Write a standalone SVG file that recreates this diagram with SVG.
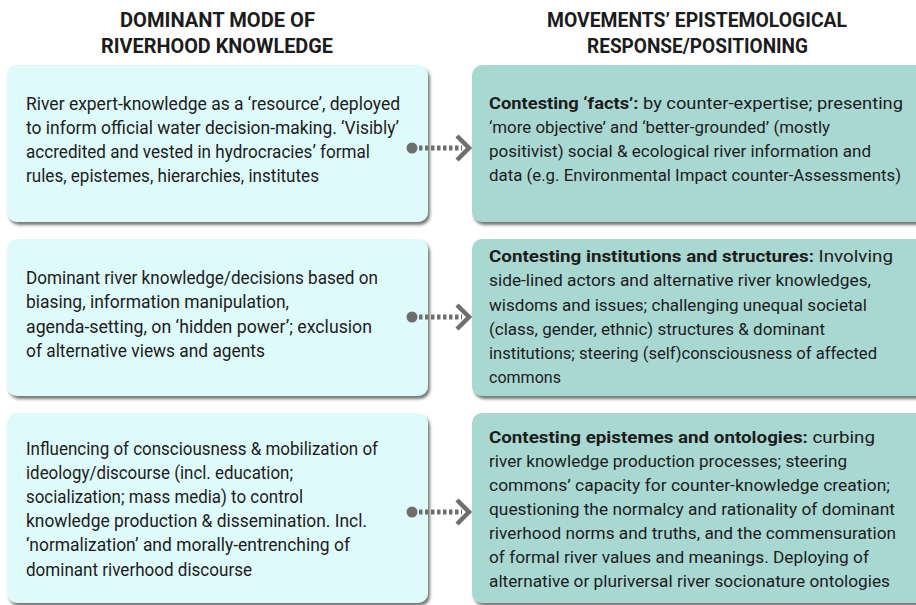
<svg xmlns="http://www.w3.org/2000/svg" width="916" height="605" viewBox="0 0 916 605">
<defs>
<filter id="sh" x="-5%" y="-5%" width="115%" height="120%">
<feDropShadow dx="2" dy="3" stdDeviation="1.8" flood-color="#4a4a4a" flood-opacity="0.75"/>
</filter>
</defs>
<style>
.l{fill:#dffafa;filter:url(#sh)}
.r{fill:#a9d8d3;filter:url(#sh)}
text{font-family:Roboto,"Open Sans","Liberation Sans",sans-serif;font-size:18px;fill:#1c1c1c}
.rt text{font-size:17.4px}
.h{font-weight:bold;font-size:20px}
.b{font-weight:bold}
.ar line{stroke:#6e6e6e;stroke-width:5;stroke-dasharray:3.5 2.5}
.ar circle{fill:#6e6e6e}
.ar polyline{fill:none;stroke:#6e6e6e;stroke-width:4.5}
</style>
<rect width="916" height="605" fill="#ffffff"/>
<g id="headers">
<text class="h" x="120" y="27" textLength="195" lengthAdjust="spacingAndGlyphs">DOMINANT MODE OF</text>
<text class="h" x="101" y="53" textLength="232" lengthAdjust="spacingAndGlyphs">RIVERHOOD KNOWLEDGE</text>
<text class="h" x="547" y="27" textLength="300" lengthAdjust="spacingAndGlyphs">MOVEMENTS’ EPISTEMOLOGICAL</text>
<text class="h" x="587" y="53" textLength="221" lengthAdjust="spacingAndGlyphs">RESPONSE/POSITIONING</text>
</g>
<g id="left1">
<rect class="l" x="7" y="65" width="421" height="157" rx="10"/>
<text x="26" y="110" textLength="374" lengthAdjust="spacingAndGlyphs">River expert-knowledge as a ‘resource’, deployed</text>
<text x="26" y="134" textLength="373" lengthAdjust="spacingAndGlyphs">to inform official water decision-making. ‘Visibly’</text>
<text x="26" y="158" textLength="344" lengthAdjust="spacingAndGlyphs">accredited and vested in hydrocracies’ formal</text>
<text x="26" y="182" textLength="293" lengthAdjust="spacingAndGlyphs">rules, epistemes, hierarchies, institutes</text>
</g>
<g id="left2">
<rect class="l" x="7" y="239" width="421" height="157" rx="10"/>
<text x="26" y="284" textLength="352" lengthAdjust="spacingAndGlyphs">Dominant river knowledge/decisions based on</text>
<text x="26" y="308" textLength="263" lengthAdjust="spacingAndGlyphs">biasing, information manipulation,</text>
<text x="26" y="333" textLength="346" lengthAdjust="spacingAndGlyphs">agenda-setting, on ‘hidden power’; exclusion</text>
<text x="26" y="357" textLength="239" lengthAdjust="spacingAndGlyphs">of alternative views and agents</text>
</g>
<g id="left3">
<rect class="l" x="7" y="413" width="421" height="190" rx="10"/>
<text x="26" y="455" textLength="352" lengthAdjust="spacingAndGlyphs">Influencing of consciousness &amp; mobilization of</text>
<text x="26" y="479" textLength="267" lengthAdjust="spacingAndGlyphs">ideology/discourse (incl. education;</text>
<text x="26" y="503" textLength="277" lengthAdjust="spacingAndGlyphs">socialization; mass media) to control</text>
<text x="26" y="527" textLength="341" lengthAdjust="spacingAndGlyphs">knowledge production &amp; dissemination. Incl.</text>
<text x="26" y="551" textLength="324" lengthAdjust="spacingAndGlyphs">‘normalization’ and morally-entrenching of</text>
<text x="26" y="576" textLength="226" lengthAdjust="spacingAndGlyphs">dominant riverhood discourse</text>
</g>
<g id="right1" class="rt">
<rect class="r" x="472" y="65" width="460" height="157" rx="10"/>
<text x="489" y="109" textLength="414" lengthAdjust="spacingAndGlyphs"><tspan class="b">Contesting ‘facts’:</tspan> by counter-expertise; presenting</text>
<text x="489" y="133" textLength="341" lengthAdjust="spacingAndGlyphs">‘more objective’ and ‘better-grounded’ (mostly</text>
<text x="489" y="157" textLength="382" lengthAdjust="spacingAndGlyphs">positivist) social &amp; ecological river information and</text>
<text x="489" y="181" textLength="412" lengthAdjust="spacingAndGlyphs">data (e.g. Environmental Impact counter-Assessments)</text>
</g>
<g id="right2" class="rt">
<rect class="r" x="472" y="239" width="460" height="157" rx="10"/>
<text x="489" y="262" textLength="404" lengthAdjust="spacingAndGlyphs"><tspan class="b">Contesting institutions and structures:</tspan> Involving</text>
<text x="489" y="286" textLength="382" lengthAdjust="spacingAndGlyphs">side-lined actors and alternative river knowledges,</text>
<text x="489" y="311" textLength="378" lengthAdjust="spacingAndGlyphs">wisdoms and issues; challenging unequal societal</text>
<text x="489" y="335" textLength="336" lengthAdjust="spacingAndGlyphs">(class, gender, ethnic) structures &amp; dominant</text>
<text x="489" y="359" textLength="388" lengthAdjust="spacingAndGlyphs">institutions; steering (self)consciousness of affected</text>
<text x="489" y="383" textLength="72" lengthAdjust="spacingAndGlyphs">commons</text>
</g>
<g id="right3" class="rt">
<rect class="r" x="472" y="413" width="460" height="190" rx="10"/>
<text x="489" y="443" textLength="386" lengthAdjust="spacingAndGlyphs"><tspan class="b">Contesting epistemes and ontologies:</tspan> curbing</text>
<text x="489" y="467" textLength="358" lengthAdjust="spacingAndGlyphs">river knowledge production processes; steering</text>
<text x="489" y="491" textLength="401" lengthAdjust="spacingAndGlyphs">commons’ capacity for counter-knowledge creation;</text>
<text x="489" y="515" textLength="406" lengthAdjust="spacingAndGlyphs">questioning the normalcy and rationality of dominant</text>
<text x="489" y="539" textLength="407" lengthAdjust="spacingAndGlyphs">riverhood norms and truths, and the commensuration</text>
<text x="489" y="563" textLength="380" lengthAdjust="spacingAndGlyphs">of formal river values and meanings. Deploying of</text>
<text x="489" y="587" textLength="401" lengthAdjust="spacingAndGlyphs">alternative or pluriversal river socionature ontologies</text>
</g>
<g id="connectors" class="ar">
<circle cx="412" cy="148" r="5.5"/>
<line x1="419" y1="148" x2="462" y2="148"/>
<polyline points="457,136 469,148 457,160"/>
<circle cx="412" cy="317" r="5.5"/>
<line x1="419" y1="317" x2="462" y2="317"/>
<polyline points="457,305 469,317 457,329"/>
<circle cx="412" cy="512" r="5.5"/>
<line x1="419" y1="512" x2="462" y2="512"/>
<polyline points="457,500 469,512 457,524"/>
</g>
</svg>
